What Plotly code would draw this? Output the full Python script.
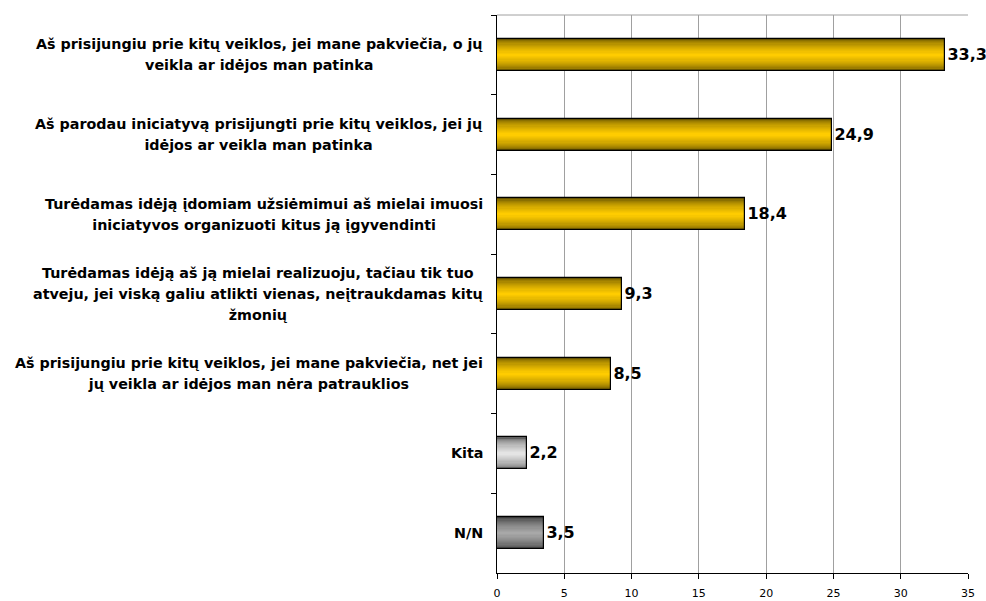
import plotly.graph_objects as go

categories = [
    "Aš prisijungiu prie kitų veiklos, jei mane pakviečia, o jų<br>veikla ar idėjos man patinka",
    "Aš parodau iniciatyvą prisijungti prie kitų veiklos, jei jų<br>idėjos ar veikla man patinka",
    "Turėdamas idėją įdomiam užsiėmimui aš mielai imuosi<br>iniciatyvos organizuoti kitus ją įgyvendinti",
    "Turėdamas idėją aš ją mielai realizuoju, tačiau tik tuo<br>atveju, jei viską galiu atlikti vienas, neįtraukdamas kitų<br>žmonių",
    "Aš prisijungiu prie kitų veiklos, jei mane pakviečia, net jei<br>jų veikla ar idėjos man nėra patrauklios",
    "Kita",
    "N/N",
]
values = [33.3, 24.9, 18.4, 9.3, 8.5, 2.2, 3.5]
x_ticks = [0, 5, 10, 15, 20, 25, 30, 35]

# colour ramps (edge colour, centre colour) per bar
gold = ((0x66, 0x52, 0x00), (0xff, 0xcc, 0x00))
light_gray = ((0x60, 0x60, 0x60), (0xe4, 0xe4, 0xe4))
dark_gray = ((0x38, 0x38, 0x38), (0xa8, 0xa8, 0xa8))
bar_ramps = [gold, gold, gold, gold, gold, light_gray, dark_gray]

BAR_W = 0.40
N_LAYERS = 14


def lerp(c0, c1, t):
    return "rgb(%d,%d,%d)" % tuple(round(a + (b - a) * t) for a, b in zip(c0, c1))


fig = go.Figure()

for k in range(N_LAYERS):
    t = (k / (N_LAYERS - 1)) ** 0.55
    w = BAR_W * (1 - k / N_LAYERS)
    colors = [lerp(r[0], r[1], t) for r in bar_ramps]
    fig.add_trace(go.Bar(
        x=values, y=categories, orientation="h", width=w,
        marker=dict(color=colors, line=dict(width=0)),
        hoverinfo="skip", showlegend=False,
    ))

# outline + value labels
fig.add_trace(go.Bar(
    x=values, y=categories, orientation="h", width=BAR_W,
    marker=dict(color="rgba(0,0,0,0)", line=dict(color="black", width=1.2)),
    text=[f"{v:.1f}".replace(".", ",") for v in values],
    textposition="outside", cliponaxis=False, constraintext="none",
    textfont=dict(family="DejaVu Sans", size=16, color="black", weight="bold"),
    showlegend=False, hoverinfo="skip",
))

# category labels as centred multi-line annotations
for c in categories:
    fig.add_annotation(
        x=0, xref="paper", y=c, yref="y",
        text=f"<span style='font-size:14.3px'><b>{c}</b></span>",
        showarrow=False, xanchor="right", yanchor="middle", align="center",
        xshift=-12,
        font=dict(family="DejaVu Sans", size=16.3, color="black"),
    )

# top border
fig.add_shape(type="line", xref="paper", yref="paper", x0=0, x1=1, y0=1, y1=1,
              line=dict(color="#a0a0a0", width=1))

fig.update_layout(
    width=986, height=601,
    margin=dict(l=497, r=18, t=15, b=28, autoexpand=False),
    paper_bgcolor="white", plot_bgcolor="white",
    barmode="overlay", bargap=0,
    font=dict(family="DejaVu Sans", color="black"),
    xaxis=dict(
        range=[0, 35], tickvals=x_ticks, showgrid=True, gridcolor="#a0a0a0", gridwidth=1,
        showline=True, linecolor="black", linewidth=1,
        ticks="outside", ticklen=5, tickcolor="black",
        ticklabelstandoff=5, automargin=False,
        tickfont=dict(family="DejaVu Sans", size=11, color="black"),
        zeroline=False, fixedrange=True,
    ),
    yaxis=dict(
        categoryorder="array", categoryarray=categories, autorange="reversed",
        showticklabels=False, showline=True, linecolor="black", linewidth=1,
        ticks="outside", ticklen=5, tickcolor="black", tickson="boundaries",
        showgrid=False, zeroline=False, fixedrange=True, automargin=False,
    ),
)

fig.write_html(
    "out.html",
    config={"displayModeBar": False},
    post_script="document.body.style.margin='0';document.body.style.overflow='hidden';",
)
